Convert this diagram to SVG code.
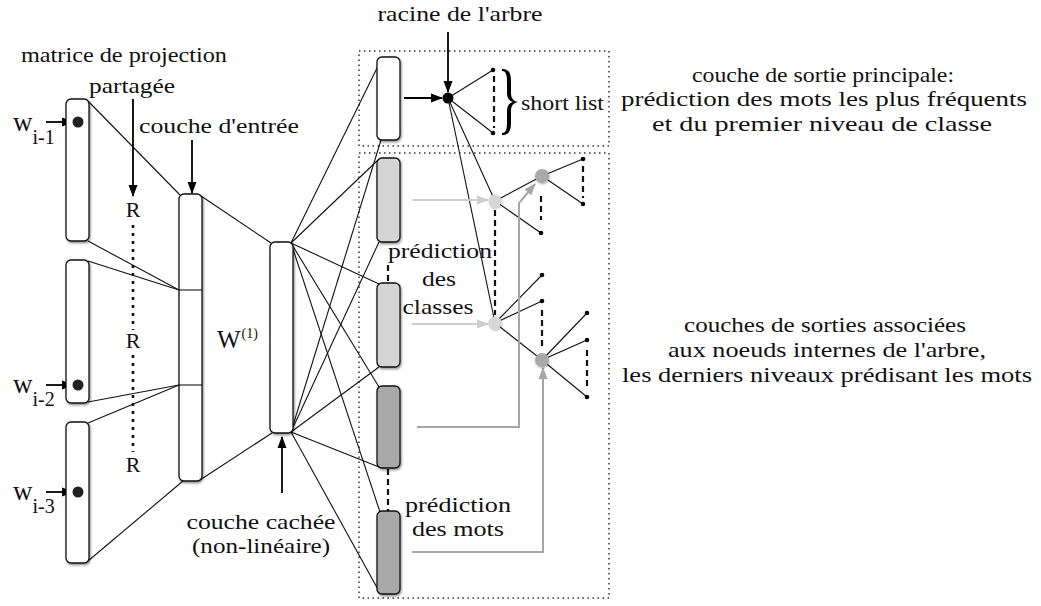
<svg xmlns="http://www.w3.org/2000/svg" width="1041" height="606" viewBox="0 0 1041 606">
  <defs>
    <marker id="ah" markerUnits="userSpaceOnUse" markerWidth="12" markerHeight="10" refX="11" refY="5" orient="auto">
      <path d="M0,0.5 L12,5 L0,9.5 z" fill="#000"/>
    </marker>
    <marker id="ah-light" markerUnits="userSpaceOnUse" markerWidth="12" markerHeight="10" refX="11" refY="5" orient="auto">
      <path d="M0,0.5 L12,5 L0,9.5 z" fill="#cdcdcd"/>
    </marker>
    <marker id="ah-grey" markerUnits="userSpaceOnUse" markerWidth="12" markerHeight="10" refX="11" refY="5" orient="auto">
      <path d="M0,0.5 L12,5 L0,9.5 z" fill="#a6a6a6"/>
    </marker>
    <filter id="shadow" x="-40%" y="-10%" width="180%" height="120%">
      <feDropShadow dx="1" dy="1.5" stdDeviation="1.2" flood-color="#000" flood-opacity="0.45"/>
    </filter>
    <filter id="halo" x="-60%" y="-60%" width="220%" height="220%">
      <feDropShadow dx="0.5" dy="1" stdDeviation="1.3" flood-color="#000" flood-opacity="0.35"/>
    </filter>
  </defs>
  <style>
    .lbl{font-family:"Liberation Serif","Times New Roman",serif;font-size:22px;fill:#111}
    .mid{text-anchor:middle}
    .big{font-size:27px}
    .sub{font-size:20px}
    .sup{font-size:14px}
    .box{stroke:#111;stroke-width:1.3;fill:#fff;filter:url(#shadow)}
    .light{fill:#d4d4d4}
    .dark{fill:#a8a8a8}
    .ln{stroke:#111;stroke-width:1.1;fill:none}
    .arr{stroke:#000;stroke-width:1.8;fill:none;marker-end:url(#ah)}
    .dots{stroke:#111;stroke-width:2.6;stroke-dasharray:3 5;fill:none}
    .dash{stroke:#111;stroke-width:2.2;stroke-dasharray:6 4;fill:none}
    .frame{fill:none;stroke:#333;stroke-width:1.5;stroke-dasharray:1.5 3.5}
    .leaf{fill:#000}
  </style>

  <!-- output frames -->
  <g id="frames">
    <rect class="frame" x="359" y="51" width="250" height="95"/>
    <rect class="frame" x="359" y="153" width="250" height="445"/>
  </g>

  <!-- connectors -->
  <g id="connectors">
    <!-- projection -> input layer -->
    <line class="ln" x1="88" y1="101" x2="180" y2="195"/>
    <line class="ln" x1="88" y1="241" x2="179" y2="290"/>
    <line class="ln" x1="88" y1="261" x2="179" y2="290"/>
    <line class="ln" x1="88" y1="402" x2="179" y2="385"/>
    <line class="ln" x1="88" y1="423" x2="179" y2="385"/>
    <line class="ln" x1="88" y1="561" x2="183" y2="481"/>
    <!-- input -> hidden -->
    <line class="ln" x1="201" y1="196" x2="271" y2="243"/>
    <line class="ln" x1="200" y1="480" x2="272" y2="433"/>
    <!-- hidden -> outputs -->
    <line class="ln" x1="291" y1="243" x2="378" y2="66"/>
    <line class="ln" x1="291" y1="243" x2="378" y2="160"/>
    <line class="ln" x1="291" y1="243" x2="379" y2="284"/>
    <line class="ln" x1="291" y1="243" x2="379" y2="387"/>
    <line class="ln" x1="291" y1="243" x2="380" y2="512"/>
    <line class="ln" x1="291" y1="432" x2="381" y2="140"/>
    <line class="ln" x1="291" y1="432" x2="379" y2="242"/>
    <line class="ln" x1="291" y1="432" x2="379" y2="367"/>
    <line class="ln" x1="291" y1="432" x2="379" y2="467"/>
    <line class="ln" x1="291" y1="432" x2="380" y2="593"/>

    <!-- shared projection matrix R -->
    <line class="arr" x1="133" y1="99" x2="133" y2="196"/>
    <line class="dots" x1="133" y1="225" x2="133" y2="330"/>
    <line class="dots" x1="133" y1="355" x2="133" y2="452"/>

    <!-- label arrows -->
    <line class="arr" x1="192" y1="140" x2="192" y2="193"/>
    <line class="arr" x1="282" y1="493" x2="282" y2="437"/>
    <line class="arr" x1="448" y1="32" x2="448" y2="92"/>
    <line class="arr" x1="46" y1="122" x2="73" y2="122"/>
    <line class="arr" x1="46" y1="385" x2="73" y2="385"/>
    <line class="arr" x1="46" y1="492" x2="73" y2="492"/>

    <!-- dashed links between output layers -->
    <line class="dash" x1="388" y1="265" x2="388" y2="283"/>
    <line class="dash" x1="388" y1="469" x2="388" y2="511"/>

    <!-- tree: root and short list -->
    <line class="arr" x1="404" y1="98" x2="442" y2="98"/>
    <line class="ln" x1="448" y1="98" x2="493" y2="70"/>
    <line class="ln" x1="448" y1="98" x2="493" y2="133"/>
    <line class="dash" x1="494" y1="76" x2="494" y2="128"/>
    <line class="ln" x1="448" y1="98" x2="495" y2="201"/>
    <line class="ln" x1="448" y1="98" x2="495" y2="323"/>
    <line class="dash" x1="495" y1="210" x2="495" y2="315"/>

    <!-- tree: first class node -->
    <line class="ln" x1="495" y1="201" x2="542" y2="176"/>
    <line class="ln" x1="495" y1="201" x2="541" y2="233"/>
    <line class="dash" x1="541" y1="196" x2="541" y2="220"/>
    <line class="ln" x1="542" y1="176" x2="583" y2="159"/>
    <line class="ln" x1="542" y1="176" x2="583" y2="204"/>
    <line class="dash" x1="583" y1="166" x2="583" y2="198"/>

    <!-- tree: second class node -->
    <line class="ln" x1="495" y1="323" x2="542" y2="275"/>
    <line class="ln" x1="495" y1="323" x2="542" y2="301"/>
    <line class="dash" x1="542" y1="310" x2="542" y2="346"/>
    <line class="ln" x1="495" y1="323" x2="542" y2="360"/>
    <line class="ln" x1="542" y1="360" x2="587" y2="313"/>
    <line class="ln" x1="542" y1="360" x2="587" y2="340"/>
    <line class="ln" x1="542" y1="360" x2="587" y2="397"/>
    <line class="dash" x1="587" y1="350" x2="587" y2="388"/>

    <!-- layer outputs feeding tree nodes -->
    <line x1="412" y1="200" x2="488" y2="200" stroke="#cdcdcd" stroke-width="2" marker-end="url(#ah-light)"/>
    <line x1="412" y1="324" x2="488" y2="324" stroke="#cdcdcd" stroke-width="2" marker-end="url(#ah-light)"/>
    <path d="M417,427 H519 V203 L535,184" fill="none" stroke="#a6a6a6" stroke-width="2" marker-end="url(#ah-grey)"/>
    <path d="M412,552 H543 V368" fill="none" stroke="#a6a6a6" stroke-width="2" marker-end="url(#ah-grey)"/>
  </g>

  <!-- projection layers -->
  <g id="proj1">
    <rect class="box" x="66" y="99" width="23" height="142" rx="5"/>
    <circle cx="78" cy="122" r="5.5" fill="#222"/>
  </g>
  <g id="proj2">
    <rect class="box" x="66" y="260" width="23" height="143" rx="5"/>
    <circle cx="78" cy="385" r="5.5" fill="#222"/>
  </g>
  <g id="proj3">
    <rect class="box" x="66" y="422" width="23" height="141" rx="5"/>
    <circle cx="78" cy="492" r="5.5" fill="#222"/>
  </g>

  <!-- input layer (concatenation) -->
  <g id="input">
    <rect class="box" x="179" y="194" width="23" height="287" rx="5"/>
    <line class="ln" x1="179" y1="290" x2="202" y2="290"/>
    <line class="ln" x1="179" y1="385" x2="202" y2="385"/>
  </g>

  <!-- hidden layer -->
  <g id="hidden">
    <rect class="box" x="270" y="242" width="23" height="191" rx="5"/>
  </g>

  <!-- output layers -->
  <g id="outA"><rect class="box" x="377" y="57" width="23" height="83" rx="5"/></g>
  <g id="outB"><rect class="box light" x="377" y="158" width="23" height="84" rx="5"/></g>
  <g id="outC"><rect class="box light" x="377" y="283" width="23" height="84" rx="5"/></g>
  <g id="outD"><rect class="box dark" x="377" y="386" width="23" height="82" rx="5"/></g>
  <g id="outE"><rect class="box dark" x="377" y="511" width="23" height="83" rx="5"/></g>

  <!-- tree nodes -->
  <g id="root"><circle cx="448" cy="98" r="5.5" fill="#000"/></g>
  <g id="node1"><circle cx="495" cy="201" r="6.5" fill="#d6d6d6" filter="url(#halo)"/></g>
  <g id="node2"><circle cx="495" cy="323" r="6.5" fill="#d6d6d6" filter="url(#halo)"/></g>
  <g id="node3"><circle cx="542" cy="176" r="7" fill="#a9a9a9" filter="url(#halo)"/></g>
  <g id="node4"><circle cx="542" cy="360" r="7" fill="#a9a9a9" filter="url(#halo)"/></g>
  <g id="leaves">
    <circle class="leaf" cx="493" cy="70" r="2.3"/>
    <circle class="leaf" cx="493" cy="133" r="2.3"/>
    <circle class="leaf" cx="541" cy="233" r="2.3"/>
    <circle class="leaf" cx="583" cy="159" r="2.3"/>
    <circle class="leaf" cx="583" cy="204" r="2.3"/>
    <circle class="leaf" cx="542" cy="275" r="2.3"/>
    <circle class="leaf" cx="542" cy="301" r="2.3"/>
    <circle class="leaf" cx="587" cy="313" r="2.3"/>
    <circle class="leaf" cx="587" cy="340" r="2.3"/>
    <circle class="leaf" cx="587" cy="397" r="2.3"/>
  </g>

  <!-- short list brace -->
  <g id="shortlist">
    <path d="M502,69 C511,69 511,76 511,84 L511,93 C511,98 513,101 518,102 C513,103 511,106 511,111 L511,120 C511,128 511,135 502,135 L502,133 C507,133 507,127 507,120 L507,111 C507,106 509,103 513,102 C509,101 507,98 507,93 L507,84 C507,77 507,71 502,71 Z" fill="#000"/>
    <text class="lbl" x="521" y="110" textLength="83" lengthAdjust="spacingAndGlyphs">short list</text>
  </g>

  <!-- labels -->
  <g id="labels">
    <text class="lbl mid" x="460" y="21" textLength="165" lengthAdjust="spacingAndGlyphs">racine de l'arbre</text>
    <text class="lbl mid" x="124" y="62" textLength="206" lengthAdjust="spacingAndGlyphs">matrice de projection</text>
    <text class="lbl mid" x="132" y="93" textLength="86" lengthAdjust="spacingAndGlyphs">partagée</text>
    <text class="lbl mid" x="219" y="133" textLength="160" lengthAdjust="spacingAndGlyphs">couche d'entrée</text>
    <text class="lbl mid" x="133" y="217">R</text>
    <text class="lbl mid" x="133" y="348">R</text>
    <text class="lbl mid" x="133" y="472">R</text>
    <text class="lbl big" x="13" y="131">w<tspan class="sub" dy="13">i-1</tspan></text>
    <text class="lbl big" x="13" y="393">w<tspan class="sub" dy="13">i-2</tspan></text>
    <text class="lbl big" x="13" y="500">w<tspan class="sub" dy="13">i-3</tspan></text>
    <text class="lbl" x="217" y="348" style="font-size:25px">W<tspan class="sup" dx="1" dy="-10">(1)</tspan></text>
    <text class="lbl mid" x="261" y="529" textLength="149" lengthAdjust="spacingAndGlyphs">couche cachée</text>
    <text class="lbl mid" x="261" y="553" textLength="138" lengthAdjust="spacingAndGlyphs">(non-linéaire)</text>
    <text class="lbl mid" x="440" y="258" textLength="104" lengthAdjust="spacingAndGlyphs">prédiction</text>
    <text class="lbl mid" x="439" y="286" textLength="34" lengthAdjust="spacingAndGlyphs">des</text>
    <text class="lbl mid" x="438" y="314" textLength="71" lengthAdjust="spacingAndGlyphs">classes</text>
    <text class="lbl mid" x="458" y="512" textLength="106" lengthAdjust="spacingAndGlyphs">prédiction</text>
    <text class="lbl mid" x="458" y="536" textLength="92" lengthAdjust="spacingAndGlyphs">des mots</text>
    <text class="lbl mid" x="823" y="82" textLength="262" lengthAdjust="spacingAndGlyphs">couche de sortie principale:</text>
    <text class="lbl mid" x="824" y="106" textLength="406" lengthAdjust="spacingAndGlyphs">prédiction des mots les plus fréquents</text>
    <text class="lbl mid" x="822" y="131" textLength="340" lengthAdjust="spacingAndGlyphs">et du premier niveau de classe</text>
    <text class="lbl mid" x="825" y="332" textLength="282" lengthAdjust="spacingAndGlyphs">couches de sorties associées</text>
    <text class="lbl mid" x="827" y="357" textLength="318" lengthAdjust="spacingAndGlyphs">aux noeuds internes de l'arbre,</text>
    <text class="lbl mid" x="827" y="382" textLength="410" lengthAdjust="spacingAndGlyphs">les derniers niveaux prédisant les mots</text>
  </g>
</svg>
